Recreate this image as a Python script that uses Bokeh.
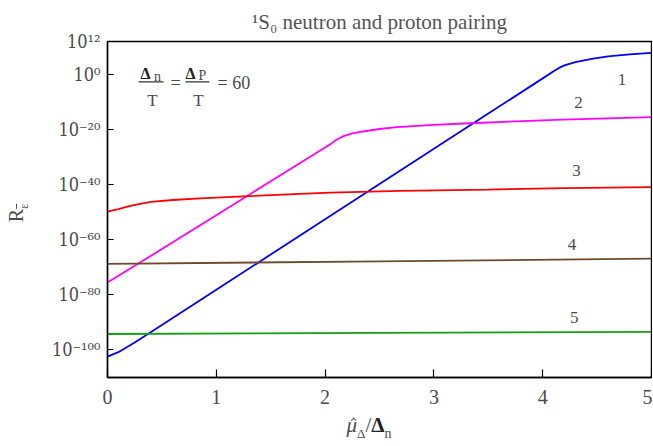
import numpy as np
from bokeh.plotting import figure
from bokeh.models import Label, FixedTicker, Range1d, ColumnDataSource, Div
from bokeh.layouts import row, column
from bokeh.core.properties import value
from bokeh.embed import file_html
from bokeh.resources import INLINE

# ---- data (y values stored as log10 exponents) ----
x1 = [0, 0.1, 0.25, 0.5, 1, 1.5, 2, 2.5, 3, 3.5, 4, 4.1, 4.15, 4.2, 4.3, 4.45, 4.6, 4.8, 5]
e1 = [-102.5, -100.9, -97.4, -91.0, -78.2, -65.4, -52.6, -39.8, -27.0, -14.2, -1.4, 1.2, 2.4, 3.3, 4.5, 5.7, 6.6, 7.3, 7.9]

x2 = [0, 0.05, 0.12, 0.5, 1, 1.5, 2, 2.05, 2.1, 2.17, 2.25, 2.35, 2.5, 2.66, 3, 3.33, 3.75, 4.18, 4.6, 5]
e2 = [-75.5, -74.4, -72.7, -63.4, -51.1, -38.8, -26.5, -25.3, -23.8, -22.4, -21.4, -20.7, -19.8, -19.1, -18.3, -17.7, -17.0, -16.4, -15.9, -15.5]

x3 = [0, 0.1, 0.2, 0.3, 0.4, 0.6, 0.85, 1.25, 1.77, 2.05, 2.69, 3.5, 4.2, 5]
e3 = [-49.8, -48.9, -47.8, -47.0, -46.3, -45.6, -45.0, -44.3, -43.4, -42.9, -42.3, -41.8, -41.3, -40.9]

x4 = [0, 2.5, 5]
e4 = [-68.8, -67.9, -66.9]

x5 = [0, 2.5, 5]
e5 = [-94.3, -93.9, -93.5]

curve_labels = ["1", "2", "3", "4", "5"]
label_x = [4.73, 4.33, 4.31, 4.27, 4.29]
label_e = [-1.8, -10.0, -34.7, -61.7, -88.4]

y_tick_exps = [-100, -80, -60, -40, -20, 0, 12]
y_tick_text = ["10⁻¹⁰⁰", "10⁻⁸⁰", "10⁻⁶⁰", "10⁻⁴⁰", "10⁻²⁰", "10⁰", "10¹²"]
x_ticks = [0, 1, 2, 3, 4, 5]

colors = ["#0000ff", "#ff00ff", "#ff0000", "#6e4b2c", "#13a013"]

FONT = "'Liberation Serif', 'DejaVu Serif'"
TICKFONT = "'DejaVu Serif Condensed', 'DejaVu Serif'"
TXT = "#4a4a4a"

YLAB_W = 40     # width of the y-label strip on the left
XLAB_H = 30     # height of the x-label strip at the bottom

# frame in page pixels: x 107..651, y 40..377
p = figure(width=652 - YLAB_W, height=445 - XLAB_H, y_axis_type="log",
           x_range=Range1d(0, 5), y_range=Range1d(10.0**-110.1, 10.0**12),
           output_backend="svg", toolbar_location=None,
           min_border_left=107 - YLAB_W, min_border_right=1, min_border_top=40,
           min_border_bottom=445 - XLAB_H - 377, margin=0)

p.xgrid.visible = False
p.ygrid.visible = False
p.outline_line_color = "black"
p.outline_line_width = 1.4
p.background_fill_color = "white"
p.border_fill_color = "white"

# title
p.title.text = "¹S₀ neutron and proton pairing"
p.title.align = "center"
p.title.text_font = FONT
p.title.text_font_size = "21px"
p.title.text_font_style = "normal"
p.title.text_color = "#555555"
p.title.standoff = 15

for xs, es, c in [(x1, e1, colors[0]), (x2, e2, colors[1]), (x3, e3, colors[2]),
                  (x4, e4, colors[3]), (x5, e5, colors[4])]:
    p.line(xs, 10.0 ** np.array(es), line_color=c, line_width=1.8)

src = ColumnDataSource(dict(x=label_x, y=10.0 ** np.array(label_e), t=curve_labels))
p.text(x="x", y="y", text="t", source=src, text_font=value(FONT), text_font_size="17px",
       text_color=TXT, text_align="center", text_baseline="middle")

# axes
p.xaxis.ticker = FixedTicker(ticks=x_ticks)
p.yaxis.ticker = FixedTicker(ticks=[10.0 ** e for e in y_tick_exps])
p.yaxis.major_label_overrides = {10.0 ** e: t for e, t in zip(y_tick_exps, y_tick_text)}
for ax in (p.xaxis[0], p.yaxis[0]):
    ax.axis_line_color = "black"
    ax.axis_line_width = 1.4
    ax.major_tick_line_color = "black"
    ax.major_tick_line_width = 1.2
    ax.major_tick_out = 0
    ax.minor_tick_line_color = None
    ax.major_label_text_color = TXT
p.xaxis.major_label_text_font = FONT
p.yaxis.major_label_text_font = TICKFONT
p.xaxis.major_tick_in = 8
p.yaxis.major_tick_in = 6
p.xaxis.major_label_text_font_size = "20px"
p.yaxis.major_label_text_font_size = "18px"
p.xaxis.major_label_standoff = 12
p.yaxis.major_label_standoff = 7


def dx(px):
    return (px - 107) / 108.8


def dy(py):
    return 10.0 ** ((72.7 - py) / 2.763)


def lab(px, py, text, size, style="normal", align="center", color=TXT):
    p.add_layout(Label(x=dx(px), y=dy(py), text=text, text_font=FONT, text_font_size=size,
                       text_font_style=style, text_color=color, text_align=align,
                       text_baseline="middle"))


# fraction annotation  Δn/T = ΔP/T = 60
lab(145, 72, "Δ", "16px", style="bold", color="#222222")
lab(157, 75, "n", "14px")
lab(152, 99, "T", "17px")
lab(175, 81, "=", "18px")
lab(190, 72, "Δ", "16px", style="bold", color="#222222")
lab(202, 74, "P", "14px")
lab(198, 99, "T", "17px")
lab(217, 81, "= 60", "18px", align="left")
p.segment(x0=[dx(138), dx(185)], y0=[dy(80), dy(80)], x1=[dx(163), dx(209)], y1=[dy(80), dy(80)],
          line_color="#333333", line_width=1.3)

# axis titles as HTML text strips (sub-/superscripts need mixed sizes)
ydiv = Div(width=YLAB_W, height=445 - XLAB_H, margin=0, text=(
    '<div style="width:%dpx;height:%dpx;position:relative;">'
    '<div style="position:absolute;left:18px;top:213px;transform:translate(-50%%,-50%%) rotate(-90deg);'
    'font-family:\'Liberation Serif\';font-size:20px;color:#4a4a4a;white-space:nowrap;line-height:1;">'
    'R<sub style="font-size:12px;"><span style="text-decoration:overline;">ε</span></sub></div></div>')
    % (YLAB_W, 445 - XLAB_H))

# the hat over mu is drawn as a small CSS chevron (not a glyph)
xdiv = Div(width=652, height=XLAB_H, margin=0, text=(
    '<div style="width:652px;height:%dpx;position:relative;">'
    '<div style="position:absolute;left:369px;top:13px;transform:translate(-50%%,-50%%);'
    'font-family:\'Liberation Serif\';font-size:21px;color:#4a4a4a;white-space:nowrap;line-height:1;">'
    '<span style="position:relative;display:inline-block;"><i>μ</i>'
    '<span style="position:absolute;left:5px;top:3px;width:4px;height:4px;'
    'border-left:1px solid #4a4a4a;border-top:1px solid #4a4a4a;transform:rotate(45deg);"></span></span>'
    '<sub style="font-size:13px;">Δ</sub>/<b style="color:#222222;">Δ</b>'
    '<sub style="font-size:14px;">n</sub></div></div>') % XLAB_H)

layout = column(row(ydiv, p, margin=0, spacing=0), xdiv, margin=0, spacing=0)

open("out.html", "w").write(file_html(layout, INLINE))
